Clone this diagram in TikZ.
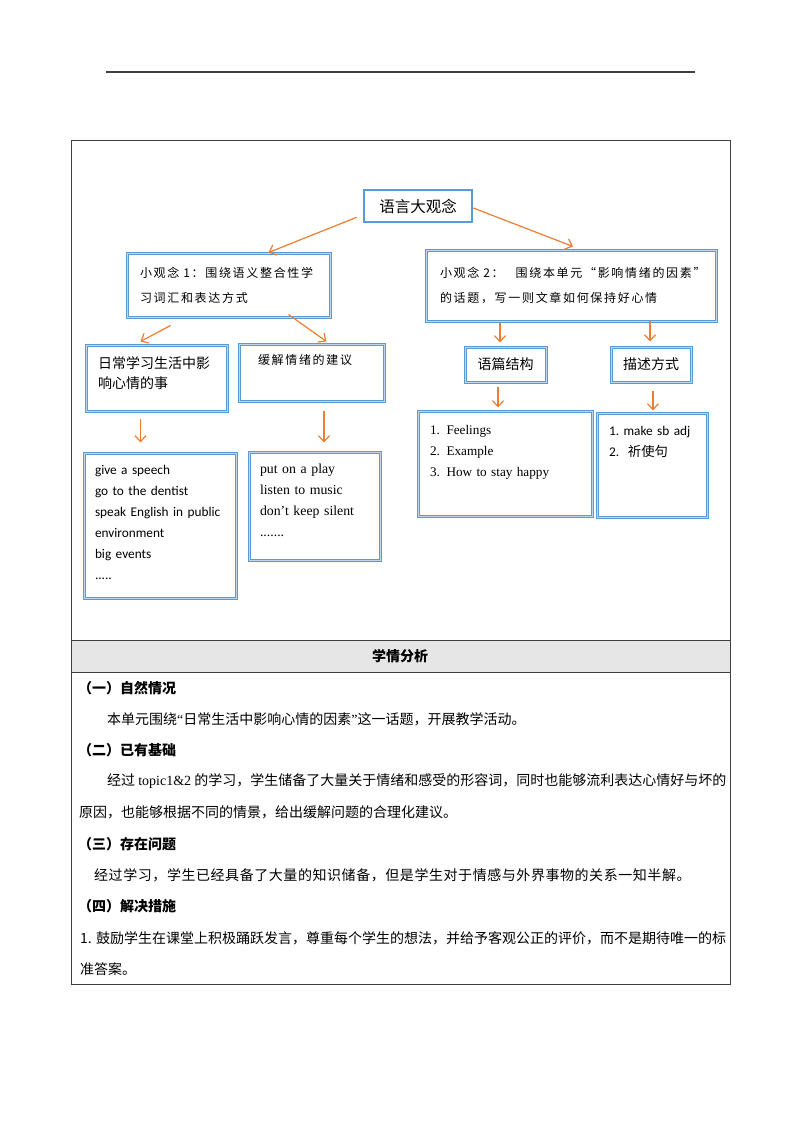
\documentclass[tikz,border=0pt]{standalone}
\usepackage{fontspec}
\setmainfont{Liberation Serif}
\newfontfamily\cjk{Noto Sans CJK SC}
\newfontfamily\cjkwide{Noto Sans CJK SC}[LetterSpace=14]
\newfontfamily\cjkloose{Noto Sans CJK SC}[LetterSpace=4]
\newfontfamily\cali{Carlito}
\usetikzlibrary{arrows.meta}
\definecolor{boxblue}{RGB}{91,155,213}
\definecolor{boxlight}{RGB}{189,215,238}
\definecolor{arrorange}{RGB}{237,125,49}
\definecolor{rowgray}{RGB}{231,230,230}
\definecolor{rulegray}{RGB}{64,64,64}
\begin{document}
\begin{tikzpicture}[x=1pt, y=-1pt,
	bluebox/.style={draw=boxblue, double=boxlight, double distance=1pt, line width=1pt, align=left, inner xsep=2pt},
	topbox/.style={draw=boxblue, line width=2.6pt, inner sep=0pt},
	flow/.style={->, >={Straight Barb[length=6pt,width=11pt]}, draw=arrorange, line width=1.2pt},
	body/.style={anchor=west, inner sep=0pt, font=\cjk\fontsize{14}{14}\selectfont},
	head/.style={body, font=\cjk\bfseries\fontsize{14}{14}\selectfont}]
		\useasboundingbox (0,0) rectangle (794,1123);
		% page rule and table
		\draw[rulegray, line width=1.5pt] (106,72) -- (695,72);
		\fill[rowgray] (71,640) rectangle (730,672);
		\draw[rulegray, line width=1pt] (71,141) rectangle (730,984);
		\draw[rulegray, line width=1pt] (71,640) -- (730,640) (71,672) -- (730,672);
		% concept map
		\draw (418,206) node[topbox, minimum width=108pt, minimum height=32pt, font=\cjk\fontsize{15.5}{16}\selectfont] (Big) {语言大观念};
		\draw (228.5,285) node[bluebox, minimum width=203pt, minimum height=64pt, text width=177pt, font=\cjkwide\fontsize{12}{25}\selectfont] (Idea1) {小观念~1：围绕语义整合性学\\习词汇和表达方式};
		\draw (571,285.5) node[bluebox, minimum width=290pt, minimum height=71pt, text width=262pt, font=\cjkwide\fontsize{12}{25}\selectfont] (Idea2) {小观念~2：~~~围绕本单元“影响情绪的因素”\\的话题，写一则文章如何保持好心情};
		\draw (156.5,378) node[bluebox, minimum width=141pt, minimum height=66pt, text width=117pt, text depth=30pt, font=\cjk\fontsize{14}{20}\selectfont] (Daily) {日常学习生活中影\\响心情的事};
		\draw (311.5,372.5) node[bluebox, minimum width=145pt, minimum height=57pt, text width=107pt, text depth=26.5pt, font=\cjkwide\fontsize{12}{25}\selectfont] (Calm) {缓解情绪的建议};
		\draw (505.5,364.5) node[bluebox, minimum width=81pt, minimum height=35pt, font=\cjk\fontsize{14}{16}\selectfont] (Struct) {语篇结构};
		\draw (651,364.5) node[bluebox, minimum width=80pt, minimum height=35pt, font=\cjk\fontsize{14}{16}\selectfont] (Desc) {描述方式};
		\draw (160,525.5) node[bluebox, minimum width=152pt, minimum height=145pt, text width=130pt, text depth=112pt, font=\cali\fontsize{13.3}{21}\selectfont] (ListA) {give a speech\\go to the dentist\\speak~English~in~public\\environment\\big events\\.....};
		\draw (314.5,506) node[bluebox, minimum width=131pt, minimum height=108pt, text width=109pt, text depth=75pt, font=\fontsize{13.8}{21}\selectfont] (ListB) {put on a play\\listen to music\\don’t~keep~silent\\.......};
		\draw (505,463.5) node[bluebox, minimum width=174pt, minimum height=105pt, text width=150pt, text depth=67.5pt, font=\fontsize{13.2}{21}\selectfont] (ListC) {1. Feelings\\2. Example\\3. How to stay happy};
		\draw (652,465) node[bluebox, minimum width=110pt, minimum height=104pt, text width=86pt, text depth=69pt, font=\cali\fontsize{13.3}{21}\selectfont] (ListD) {1.~make~sb~adj\\2.\ \ {\cjk 祈使句}};
		\draw[flow] ([xshift=-6pt,yshift=6pt]Big.south west) -- ([xshift=40pt]Idea1.north);
		\draw[flow] ([yshift=-2pt]Big.east) -- ([xshift=2pt,yshift=3pt]Idea2.north);
		\draw[flow] ([xshift=-58pt,yshift=-8pt]Idea1.south) -- ([xshift=-16pt,yshift=3pt]Daily.north);
		\draw[flow] ([xshift=60pt,yshift=3pt]Idea1.south) -- ([xshift=15pt,yshift=2pt]Calm.north);
		\draw[flow] ([xshift=-16pt,yshift=-7pt]Daily.south) -- ([xshift=-19.5pt,yshift=10pt]ListA.north);
		\draw[flow] ([xshift=12.5pt,yshift=-9pt]Calm.south) -- ([xshift=9.5pt,yshift=9pt]ListB.north);
		\draw[flow] ([xshift=-71pt,yshift=-1pt]Idea2.south) -- ([xshift=-5.5pt,yshift=4pt]Struct.north);
		\draw[flow] ([xshift=79pt,yshift=1pt]Idea2.south) -- ([xshift=-1pt,yshift=5pt]Desc.north);
		\draw[flow] ([xshift=-7.5pt,yshift=-4pt]Struct.south) -- ([xshift=-7pt,yshift=3pt]ListC.north);
		\draw[flow] ([xshift=2pt,yshift=-8pt]Desc.south) -- ([xshift=1pt,yshift=2pt]ListD.north);
		% analysis text
		\draw (400,656) node[head, anchor=center] (Title) {学情分析};
		\draw (78,688) node[head] (H1) {（一）自然情况};
		\draw (107,719) node[body] (T1) {本单元围绕{\rmfamily “}日常生活中影响心情的因素{\rmfamily ”}这一话题，开展教学活动。};
		\draw (78,750) node[head] (H2) {（二）已有基础};
		\draw (107,781) node[body] (T2) {经过 {\rmfamily topic1\&2} 的学习，学生储备了大量关于情绪和感受的形容词，同时也能够流利表达心情好与坏的};
		\draw (79,812) node[body] (T3) {原因，也能够根据不同的情景，给出缓解问题的合理化建议。};
		\draw (78,844) node[head] (H3) {（三）存在问题};
		\draw (94,875) node[body, font=\cjkloose\fontsize{14}{14}\selectfont] (T4) {经过学习，学生已经具备了大量的知识储备，但是学生对于情感与外界事物的关系一知半解。};
		\draw (78,906) node[head] (H4) {（四）解决措施};
		\draw (80,938) node[body] (T5) {1. 鼓励学生在课堂上积极踊跃发言，尊重每个学生的想法，并给予客观公正的评价，而不是期待唯一的标};
		\draw (80,969) node[body] (T6) {准答案。};
\end{tikzpicture}
\end{document}
